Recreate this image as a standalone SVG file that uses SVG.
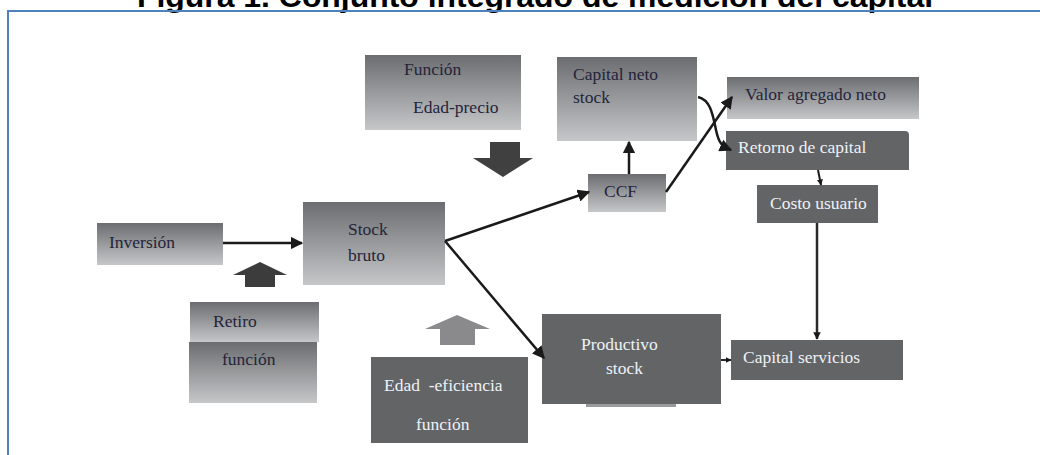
<svg xmlns="http://www.w3.org/2000/svg" width="1040" height="455" viewBox="0 0 1040 455">
<style>
.t{font-family:"Liberation Serif","Times New Roman",serif;font-size:17.5px;fill:#24243a}
.tl{font-family:"Liberation Serif","Times New Roman",serif;font-size:17.5px;fill:#eef2f8}
.g{fill:url(#grad)}
.d{fill:#636466}
.ln{stroke:#1a1a1a;stroke-width:2.5;fill:none}
</style>
<defs>
<linearGradient id="grad" x1="0" y1="0" x2="0" y2="1">
<stop offset="0" stop-color="#6c6d70"/>
<stop offset="1" stop-color="#c6c7c9"/>
</linearGradient>
<marker id="ah" viewBox="0 0 10 10" refX="9" refY="5" markerWidth="5" markerHeight="5" markerUnits="strokeWidth" orient="auto">
<path d="M0,0 L10,5 L0,10 z" fill="#1a1a1a"/>
</marker>
<marker id="ahs" viewBox="0 0 10 10" refX="9" refY="5" markerWidth="3" markerHeight="3" markerUnits="strokeWidth" orient="auto">
<path d="M0,0 L10,5 L0,10 z" fill="#1a1a1a"/>
</marker>
</defs>
<rect width="1040" height="455" fill="#ffffff"/>
<text x="535" y="7" text-anchor="middle" textLength="796" lengthAdjust="spacingAndGlyphs" font-family="Liberation Sans, Arial, sans-serif" font-weight="bold" font-size="30" fill="#000">Figura 1. Conjunto integrado de medición del capital</text>
<path d="M8,455 V11 H1040" fill="none" stroke="#4f81bd" stroke-width="2"/>

<g id="inversion"><rect class="g" x="97" y="223" width="126" height="42"/><text class="t" x="109" y="248">Inversión</text></g>
<g id="stock-bruto"><rect class="g" x="303" y="202" width="142" height="83"/><text class="t" x="348" y="235">Stock</text><text class="t" x="348" y="261">bruto</text></g>
<g id="retiro-funcion"><rect class="g" x="190" y="302" width="129" height="40"/><rect class="g" x="189" y="342" width="128" height="61"/><text class="t" x="213" y="327">Retiro</text><text class="t" x="222" y="365">función</text></g>
<g id="arrow-retiro"><path d="M245,287 V275 H233 L260,262 L287,275 H275 V287 z" fill="#3c3c3c"/></g>
<g id="funcion-edad-precio"><rect class="g" x="365" y="55" width="156" height="75"/><text class="t" x="404" y="75">Función</text><text class="t" x="413" y="113">Edad-precio</text></g>
<g id="arrow-edad-precio"><path d="M490,142 H520 V158 H533 L503,177 L473,158 H490 z" fill="#404040"/></g>
<g id="edad-eficiencia"><rect class="d" x="371" y="357" width="157" height="86"/><text class="tl" x="384" y="391" xml:space="preserve">Edad  -eficiencia</text><text class="tl" x="416" y="430">función</text></g>
<g id="arrow-edad-eficiencia"><path d="M440,345 V329 H425 L457,315 L490,329 H475 V345 z" fill="#8a8a8c"/></g>
<g id="ccf"><rect class="g" x="588" y="174" width="78" height="38"/><text class="t" x="604" y="197">CCF</text></g>
<g id="capital-neto-stock"><rect class="g" x="557" y="57" width="140" height="84"/><text class="t" x="573" y="80">Capital neto</text><text class="t" x="573" y="103">stock</text></g>
<g id="valor-agregado-neto"><rect class="g" x="727" y="77" width="192" height="42"/><text class="t" x="745" y="100">Valor agregado neto</text></g>
<g id="retorno-capital"><path class="d" d="M726,131 H905 Q909,131 909,135 V170 H726 z"/><text class="tl" x="738" y="153">Retorno de capital</text></g>
<g id="costo-usuario"><rect class="d" x="757" y="185" width="121" height="38"/><text class="tl" x="770" y="209">Costo usuario</text></g>
<g id="productivo-stock"><rect class="d" x="542" y="314" width="179" height="90"/><rect x="586" y="404" width="90" height="3" fill="#9a9b9d"/><text class="tl" x="581" y="350">Productivo</text><text class="tl" x="606" y="374">stock</text></g>
<g id="capital-servicios"><rect class="d" x="731" y="340" width="172" height="40"/><text class="tl" x="743" y="363">Capital servicios</text></g>

<g id="connectors">
<line class="ln" x1="223" y1="243" x2="302" y2="243" marker-end="url(#ah)"/>
<line class="ln" x1="445" y1="241" x2="589" y2="192" marker-end="url(#ah)"/>
<line class="ln" x1="445" y1="241" x2="544" y2="358" marker-end="url(#ah)"/>
<line class="ln" x1="629" y1="174" x2="629" y2="142" marker-end="url(#ah)"/>
<line class="ln" x1="666" y1="192" x2="732" y2="97" marker-end="url(#ah)"/>
<path class="ln" d="M698,97 C711,100 713,116 716,130 S722,146 731,150" marker-end="url(#ah)"/>
<line x1="818" y1="170" x2="821" y2="185" stroke="#1a1a1a" stroke-width="2" marker-end="url(#ahs)"/>
<line x1="817" y1="223" x2="817" y2="339" stroke="#2a2a2a" stroke-width="2.5" marker-end="url(#ahs)"/>
<line x1="721" y1="360" x2="731" y2="360" stroke="#2a2a2a" stroke-width="2" marker-end="url(#ahs)"/>
</g>
</svg>
